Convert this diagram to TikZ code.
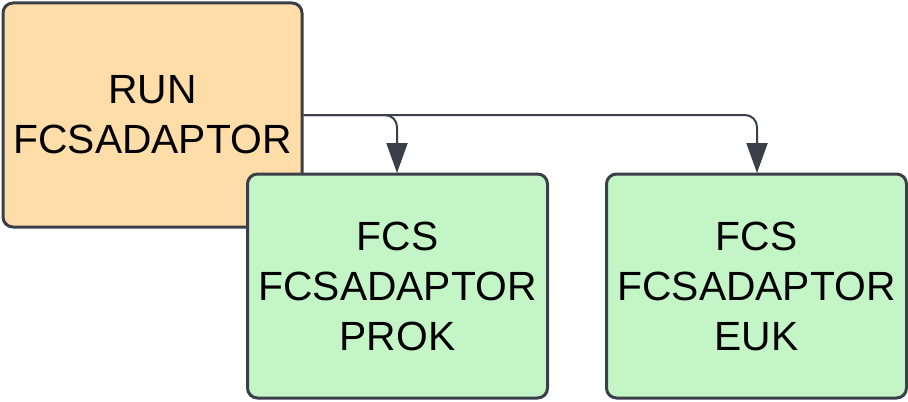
\documentclass[tikz,border=0pt]{standalone}
\usepackage{fontspec}
\setmainfont{Liberation Sans}
\usetikzlibrary{arrows.meta,positioning}
\definecolor{edgegray}{HTML}{3B3F49}
\definecolor{runfill}{HTML}{FEDDA8}
\definecolor{fcsfill}{HTML}{C3F5C7}
\tikzset{
  runbox/.style={rounded corners=5pt, draw=edgegray, line width=1.5pt, fill=runfill, align=center,
    minimum width=149.5pt, minimum height=112pt, inner sep=0pt, font=\fontsize{20.4}{25}\selectfont},
  fcsbox/.style={rounded corners=5pt, draw=edgegray, line width=1.5pt, fill=fcsfill, align=center,
    minimum width=150pt, minimum height=112pt, inner sep=0pt, font=\fontsize{20.4}{25}\selectfont},
  link/.style={-{Triangle[length=15pt,width=10.5pt]}, draw=edgegray, line width=1pt, rounded corners=6pt},
}
\begin{document}
\begin{tikzpicture}[x=0.5pt,y=-0.5pt]
    \useasboundingbox (0,0) rectangle (908,401);
    \node[runbox] (run) at (152.5,115) {RUN\\FCSADAPTOR};

    \draw[link] (run.east) -| (397,173);
    \draw[link] (run.east) -| (757,173);

    \node[fcsbox] (prok) at (397.5,286) {FCS\\FCSADAPTOR\\PROK};
    \node[fcsbox, right=28pt of prok] (euk) {FCS\\FCSADAPTOR\\EUK};
\end{tikzpicture}
\end{document}
